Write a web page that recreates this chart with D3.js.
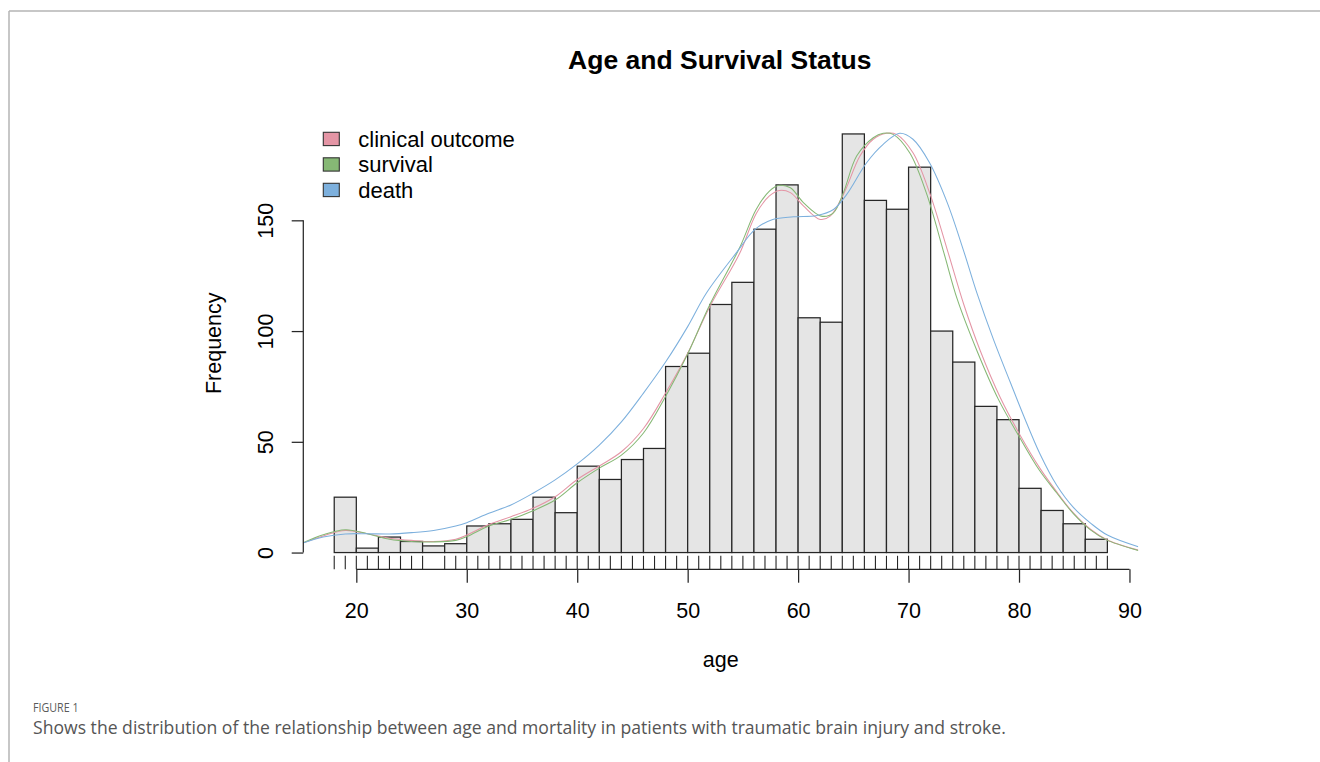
<!DOCTYPE html>
<html lang="en">
<head>
    <meta charset="utf-8" />
    <title> age and survival status </title>
    <script src="https://cdn.jsdelivr.net/npm/d3@7"></script>
    <style>
        body { margin: 0px; background: #fff; }
        svg text { font-family: "Liberation Sans", Arial, sans-serif; fill: #000; }
        svg .caption { font-family: "Open Sans", sans-serif; }
    </style>
</head>
<body>

<svg id="chart" width="1320" height="762"></svg>

<script>

    // histogram bins (2 year wide) and counts
    var binEdges = [18,20,22,24,26,28,30,32,34,36,38,40,42,44,46,48,50,52,54,56,58,60,62,64,66,68,70,72,74,76,78,80,82,84,86,88];
    var binCounts = [25,2,7,5,3,4,12,13,15,25,18,39,33,42,47,84,90,112,122,146,166,106,104,189,159,155,174,100,86,66,60,29,19,13,6];

    // rug marks along the age axis
    var rugAges = [18,19,20,21,22,23,24,25,26,28,29,30,31,32,33,34,35,36,37,38,39,40,41,42,43,44,45,46,47,48,49,50,51,52,53,54,55,56,57,58,59,60,61,62,63,64,65,66,67,68,69,70,71,72,73,74,75,76,77,78,79,80,81,82,83,84,85,86,87,88];

    // density curves, scaled to counts as [age, value]
    var clinicalCurve = [[15.1,4.2],[17,7.5],[19,10],[21,8.5],[23,6.5],[25,5.5],[27,5],[29,6],[30,7.9],[32,12.7],[34,16.2],[36,20],[38,25.2],[40,33],[42,39.1],[44,45.5],[46,56],[48,72],[50,90],[52,111],[54.7,135],[56.2,153],[57.4,161],[58.3,163.5],[59.3,162.5],[60.5,156.4],[62,150.4],[62.9,151.9],[64.1,161.7],[65.6,179],[66.8,186.6],[68,189.3],[68.9,188.8],[70.4,180.5],[71.9,162.5],[73.5,136.8],[75,112],[76.5,91],[78.3,70],[80.1,53],[81.9,38],[83.4,27.5],[84.9,18],[86.5,10.4],[88,5.7],[90.8,1.1]];
    var survivalCurve = [[15.1,4.2],[17,8],[19,10.3],[21,8.5],[23,6],[25,5],[27,4.8],[29,5.5],[30,7.2],[32,12],[34,15],[36,18.9],[38,23.7],[40,31.5],[42,38.1],[44,44],[46,54],[48,70.5],[49.9,88.6],[52,111.9],[54.7,137.6],[56.2,154.9],[57.4,163.2],[58.3,165.8],[59.3,164.7],[60.5,157.9],[62.1,151.9],[63.2,153.4],[64.1,162.5],[65.3,179],[66.8,187.3],[67.7,189.3],[68.6,188.8],[70.1,180.5],[71.6,162.5],[73.2,135.3],[74.4,114.5],[76.2,91],[78.1,69.5],[80,52.5],[81.8,37.5],[83.4,27],[84.9,17.7],[86.5,10.1],[88,5.5],[90.8,0.9]];
    var deathCurve = [[15.1,4.2],[17,7],[19,8.4],[21,8.5],[23,8.4],[25,9],[27,10],[29,12],[30,13.5],[32,17.7],[34,21.5],[36,26.8],[38,32.8],[40,40],[42,48.5],[44,59],[46,72],[48,86],[50,102],[51.7,117.2],[54.4,135.3],[56.1,145.9],[57.7,150.4],[59.6,151.6],[61.7,152.2],[63.2,154.9],[64.4,161.7],[66.2,176],[67.7,184.3],[69.2,189.3],[70.4,186.6],[71.9,176],[73.5,158],[75,136],[76.2,117],[77.7,96],[79.2,77],[80.4,62],[81.9,44.5],[83.4,30.5],[84.9,20.5],[86.5,13.2],[88,7.9],[90.8,2.6]];

    var seriesNames = ['clinical outcome','survival','death'];
    var seriesColors = ['#E495A5','#86B875','#7DB0DD'];

    var xTicks = [20,30,40,50,60,70,80,90];
    var yTicks = [0,50,100,150];

    function main() {

        var svg = d3.select('#chart');

        // page frame lines
        svg.append('line').attr('x1',9).attr('x2',1320).attr('y1',11).attr('y2',11)
                .style('stroke','#b4b4b4').style('stroke-width',1.5);
        svg.append('line').attr('x1',9).attr('x2',9).attr('y1',11).attr('y2',762)
                .style('stroke','#b4b4b4').style('stroke-width',1.5);

        var plot = {left: 303.3, right: 1138.3, top: 117.2, bottom: 569.3};

        var x = d3.scaleLinear().domain([15.2, 90.8]).range([plot.left, plot.right]);
        var y = d3.scaleLinear().domain([-7.56, 196.56]).range([plot.bottom, plot.top]);

        svg.append('clipPath').attr('id','plot-clip')
                .append('rect')
                .attr('x',plot.left).attr('y',plot.top)
                .attr('width',plot.right-plot.left).attr('height',plot.bottom-plot.top);

        //bars
        var bins = binCounts.map(function(c,i) { return {x0: binEdges[i], x1: binEdges[i+1], n: c}; });
        svg.append('g').selectAll('rect')
                .data(bins)
                .enter().append('rect')
                .attr('x', function(d) { return x(d.x0); })
                .attr('y', function(d) { return y(d.n); })
                .attr('width', function(d) { return x(d.x1) - x(d.x0); })
                .attr('height', function(d) { return y(0) - y(d.n); })
                .style('fill','#e5e5e5')
                .style('stroke','#262626')
                .style('stroke-width',1.25);

        //density lines
        var line = d3.line()
                .x(function(d) { return x(d[0]); })
                .y(function(d) { return y(d[1]); })
                .curve(d3.curveCatmullRom.alpha(0.5));

        var curves = [clinicalCurve, survivalCurve, deathCurve];
        svg.append('g').attr('clip-path','url(#plot-clip)')
                .selectAll('path')
                .data(curves)
                .enter().append('path')
                .attr('d', line)
                .style('fill','none')
                .style('stroke', function(d,i) { return seriesColors[i]; })
                .style('stroke-width',1.05);

        //rug
        svg.append('g').selectAll('line')
                .data(rugAges)
                .enter().append('line')
                .attr('x1', function(d) { return x(d); })
                .attr('x2', function(d) { return x(d); })
                .attr('y1', plot.bottom)
                .attr('y2', plot.bottom - 13.5)
                .style('stroke','#262626')
                .style('stroke-width',1.1);

        //x axis
        var gx = svg.append('g')
                .attr('transform','translate(0,' + plot.bottom + ')')
                .call(d3.axisBottom(x).tickValues(xTicks).tickSize(13.4).tickSizeOuter(0));
        gx.select('.domain').remove();
        gx.append('line')
                .attr('x1', x(xTicks[0])).attr('x2', x(xTicks[xTicks.length-1]))
                .style('stroke','#262626').style('stroke-width',1.25);
        gx.selectAll('.tick line').style('stroke','#262626').style('stroke-width',1.25);
        gx.selectAll('.tick text')
                .attr('y',48.4).attr('dy',0)
                .style('font-size','21.5px')
                .style('font-family','"Liberation Sans", Arial, sans-serif')
                .style('fill','#000');

        //y axis, labels turned like R
        var gy = svg.append('g')
                .attr('transform','translate(' + plot.left + ',0)')
                .call(d3.axisLeft(y).tickValues(yTicks).tickSize(11.6).tickSizeOuter(0));
        gy.select('.domain').remove();
        gy.append('line')
                .attr('y1', y(yTicks[0])).attr('y2', y(yTicks[yTicks.length-1]))
                .style('stroke','#262626').style('stroke-width',1.25);
        gy.selectAll('.tick line').style('stroke','#262626').style('stroke-width',1.25);
        gy.selectAll('.tick text')
                .attr('x',0).attr('dy',0)
                .attr('text-anchor','middle')
                .attr('transform','translate(-30,0) rotate(-90)')
                .style('font-size','21.5px')
                .style('font-family','"Liberation Sans", Arial, sans-serif')
                .style('fill','#000');

        //titles
        var midX = (plot.left + plot.right) / 2;
        svg.append('text')
                .attr('x', midX - 1).attr('y', 69.3)
                .attr('text-anchor','middle')
                .style('font-size','26.5px').style('font-weight','bold')
                .text('Age and Survival Status');

        svg.append('text')
                .attr('x', midX).attr('y', 667)
                .attr('text-anchor','middle')
                .style('font-size','21.5px')
                .text('age');

        svg.append('text')
                .attr('transform','translate(220.5,' + ((plot.top + plot.bottom) / 2) + ') rotate(-90)')
                .attr('text-anchor','middle')
                .style('font-size','21.5px')
                .text('Frequency');

        //legend
        var legend = svg.append('g').selectAll('g')
                .data(seriesNames)
                .enter().append('g')
                .attr('transform', function(d,i) { return 'translate(323.3,' + (132.3 + i*25.5) + ')'; });
        legend.append('rect')
                .attr('width',16).attr('height',13.3)
                .style('fill', function(d,i) { return seriesColors[i]; })
                .style('stroke','#333').style('stroke-width',1.1);
        legend.append('text')
                .attr('x',35).attr('y',14.4)
                .style('font-size','22px')
                .text(function(d) { return d; });

        //figure caption
        svg.append('text').attr('class','caption')
                .attr('x',33).attr('y',711.5)
                .attr('textLength',45.5).attr('lengthAdjust','spacingAndGlyphs')
                .style('font-size','13.5px').style('fill','#5a5a5a')
                .text('FIGURE 1');
        svg.append('text').attr('class','caption')
                .attr('x',33).attr('y',733.5)
                .style('font-size','17.6px').style('fill','#555')
                .text('Shows the distribution of the relationship between age and mortality in patients with traumatic brain injury and stroke.');
    }

    main();

</script>

</body>
</html>
